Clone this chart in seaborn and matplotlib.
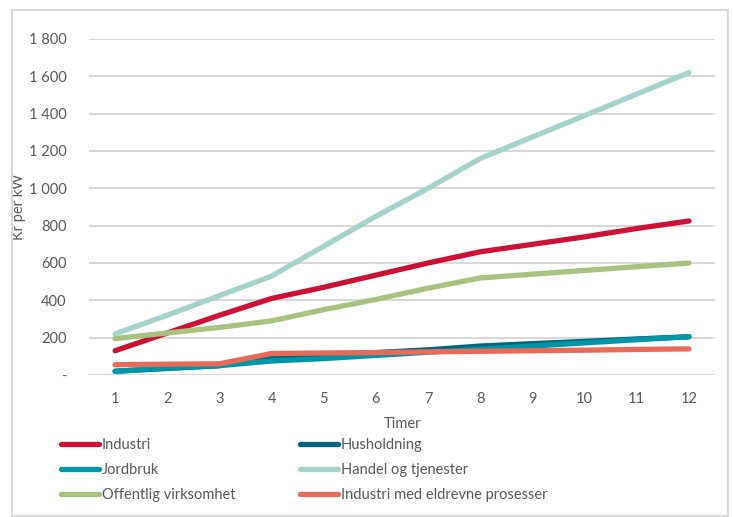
import numpy as np
import pandas as pd
import matplotlib
matplotlib.use("Agg")
import matplotlib.pyplot as plt
import seaborn as sns
from matplotlib.patches import Rectangle
from matplotlib.lines import Line2D

# Values (kr per kW per hour count)
timer = [1, 2, 3, 4, 5, 6, 7, 8, 9, 10, 11, 12]
industri = [130, 225, 320, 410, 470, 535, 600, 660, 700, 740, 785, 825]
husholdning = [20, 35, 50, 100, 110, 120, 135, 155, 168, 180, 193, 205]
jordbruk = [20, 37, 50, 75, 88, 105, 122, 138, 155, 172, 189, 205]
handel = [220, 320, 425, 530, 690, 850, 1000, 1160, 1275, 1390, 1505, 1620]
offentlig = [195, 225, 255, 290, 350, 405, 465, 520, 540, 560, 580, 600]
industri_el = [55, 58, 60, 115, 118, 120, 124, 127, 130, 133, 137, 140]

series_names = ["Industri", "Husholdning", "Jordbruk", "Handel og tjenester",
                "Offentlig virksomhet", "Industri med eldrevne prosesser"]
series_vals = [industri, husholdning, jordbruk, handel, offentlig, industri_el]
colors = ["#CF1036", "#00667C", "#0096A8", "#A5D2CB", "#A8C380", "#E96A58"]

y_ticks = [0, 200, 400, 600, 800, 1000, 1200, 1400, 1600, 1800]
y_ticklabels = ["-", "200", "400", "600", "800", "1 000", "1 200", "1 400", "1 600", "1 800"]

rows = []
for name, vals in zip(series_names, series_vals):
    for t, v in zip(timer, vals):
        rows.append({"Timer": t, "Kr per kW": v, "Serie": name})
df = pd.DataFrame(rows)

sns.set_style("white")
plt.rcParams["font.family"] = ["Lato", "DejaVu Sans"]
txt = "#595959"

fig = plt.figure(figsize=(7.33, 5.17), dpi=100)
fig.patches.append(Rectangle((12 / 733, 1 - 516 / 517), 716 / 733, 506 / 517,
                             transform=fig.transFigure, fill=False,
                             edgecolor="#D9D9D9", linewidth=1.5))
ax = fig.add_axes([89 / 733, 1 - 375 / 517, 626 / 733, 336 / 517])

sns.lineplot(data=df, x="Timer", y="Kr per kW", hue="Serie", hue_order=series_names,
             palette=colors, linewidth=3.8, ax=ax, legend=False)
for ln in ax.get_lines():
    ln.set_solid_capstyle("round")
    ln.set_solid_joinstyle("round")

ax.set_xlim(0.5, 12.5)
ax.set_ylim(0, 1800)
ax.set_xticks(timer)
ax.set_xticklabels([str(t) for t in timer], fontsize=10.5, color=txt)
ax.set_yticks(y_ticks)
ax.set_yticklabels(y_ticklabels, fontsize=10.5, color=txt)
ax.tick_params(axis="both", length=0)
ax.tick_params(axis="y", pad=16)
ax.tick_params(axis="x", pad=12)
ax.yaxis.grid(True, color="#D9D9D9", linewidth=1.5)
ax.set_axisbelow(True)
sns.despine(ax=ax, left=True, bottom=True)
ax.set_xlabel("Timer", fontsize=10.5, color=txt, labelpad=8)
ax.set_ylabel("Kr per kW", fontsize=10.5, color=txt)
ax.yaxis.set_label_coords(-63 / 626, 0.5)

# legend in two columns below the plot
handles = [Line2D([0], [0], color=c, linewidth=3.8, solid_capstyle="round") for c in colors]
order = [0, 2, 4, 1, 3, 5]
leg = fig.legend([handles[i] for i in order], [series_names[i] for i in order],
                 ncol=2, loc="upper left", bbox_to_anchor=(54 / 733, 1 - 431 / 517),
                 frameon=False, fontsize=10.5, handlelength=2.6, handletextpad=0.2,
                 columnspacing=4.4, labelspacing=0.75, borderpad=0)
for t in leg.get_texts():
    t.set_color(txt)

fig.savefig("out.png", dpi=100)
